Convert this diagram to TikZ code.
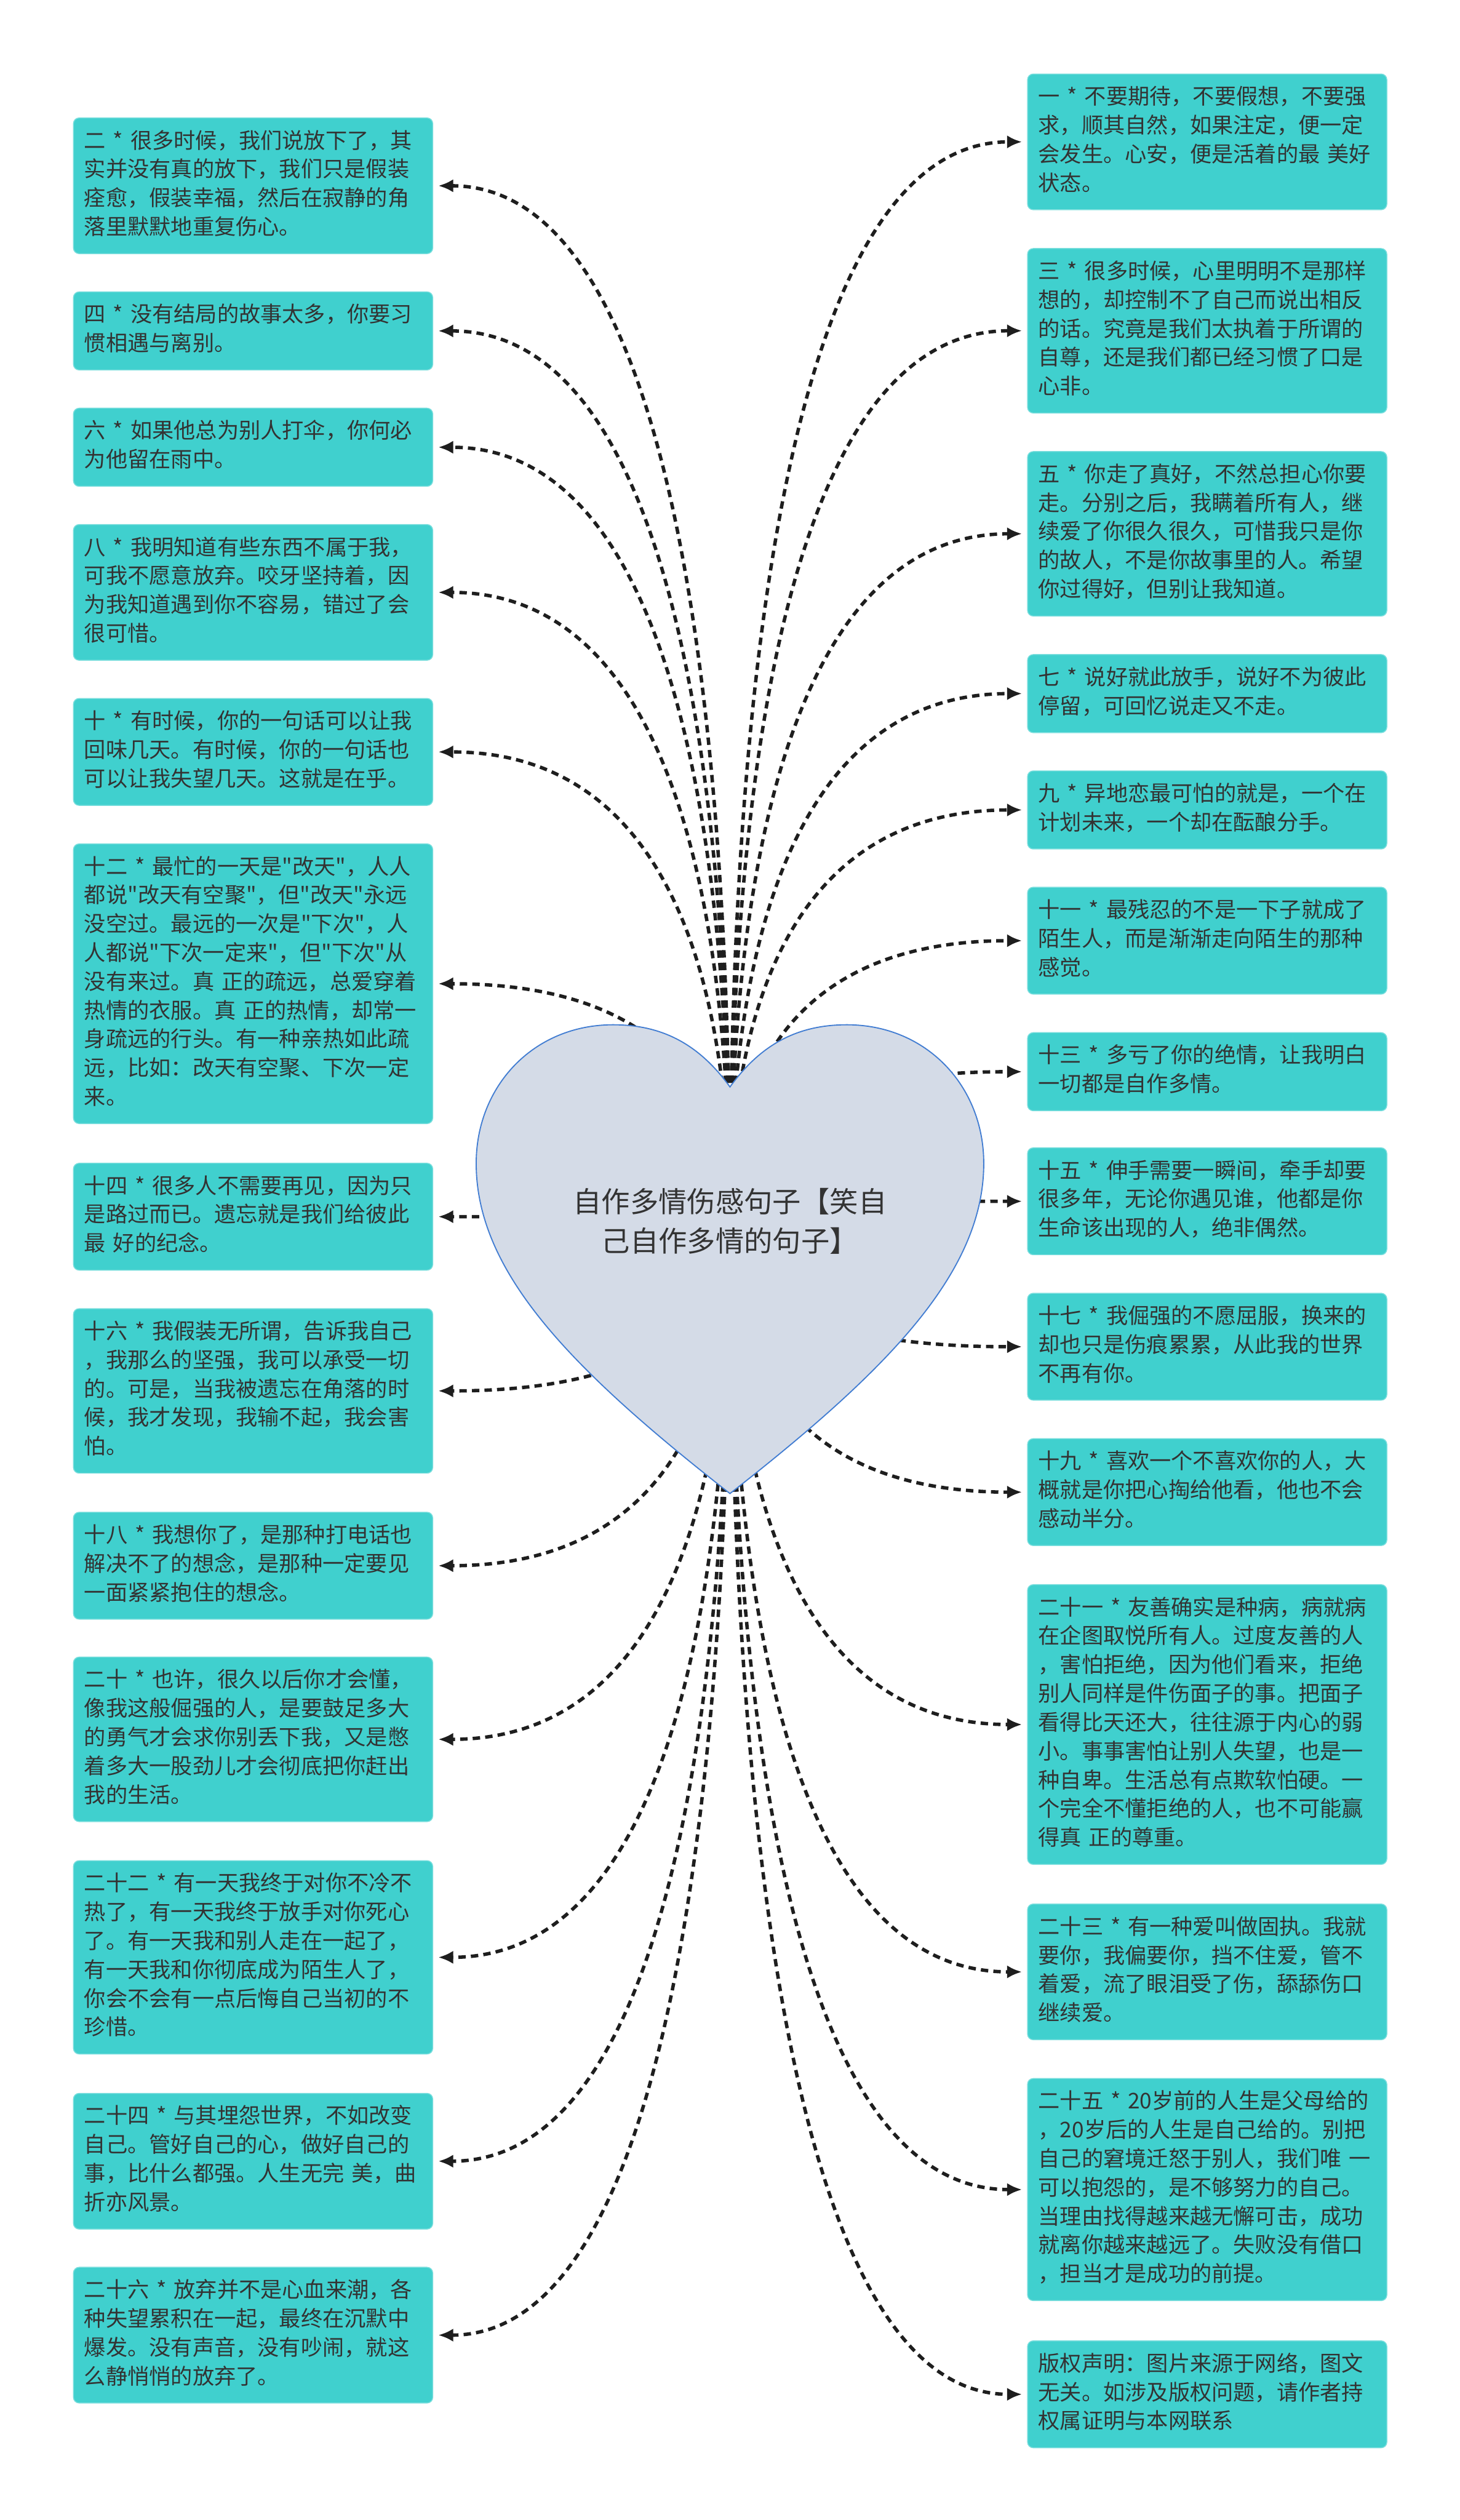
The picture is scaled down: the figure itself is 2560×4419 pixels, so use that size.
\documentclass[tikz,border=0pt]{standalone}
\usepackage{fontspec}
\setmainfont{Noto Sans CJK SC}[Ligatures=TeXOff]
\usepackage{xcolor}
\usetikzlibrary{arrows.meta, calc, backgrounds}
\definecolor{boxteal}{RGB}{64,208,206}
\definecolor{heartfill}{RGB}{212,219,231}
\definecolor{heartline}{RGB}{66,125,210}
\definecolor{inkgray}{RGB}{51,51,51}
\definecolor{linkgray}{RGB}{30,30,30}
\tikzset{
  quote/.style={rectangle, rounded corners=2.5pt, fill=boxteal, draw=boxteal!70!white,
    line width=0.4pt, text=inkgray, text width=148pt, align=left,
    inner xsep=4.75pt, inner ysep=4.5pt, anchor=north west,
    font=\fontsize{9.5pt}{12.625pt}\selectfont,
    execute at begin node={\noindent\strut}, execute at end node=\strut},
  link/.style={draw=linkgray, line width=1.5pt, dash pattern=on 3.25pt off 2.25pt,
    -{Latex[length=6.5pt,width=5.75pt]}, shorten >=2.25pt,
    to path={.. controls ($(\tikztostart)!0.5!(\tikztostart |- \tikztotarget)$)
      and ($(\tikztotarget)!0.8!(\tikztostart |- \tikztotarget)$) .. (\tikztotarget) \tikztonodes}}
}

\begin{document}
\begin{tikzpicture}[x=0.25pt, y=-0.25pt]
\useasboundingbox (0,0) rectangle (2560,4419);
\node[font=\fontsize{12.5pt}{17.25pt}\selectfont, align=center, text=inkgray] (heart) at (1280,2141) {自作多情伤感句子【笑自\\己自作多情的句子】};
% left column
\node[quote] (q2) at (128,206) {二 * 很多时候，我们说放下了，其\\实并没有真的放下，我们只是假装\\痊愈，假装幸福，然后在寂静的角\\落里默默地重复伤心。};
\node[quote] (q4) at (128,511) {四 * 没有结局的故事太多，你要习\\惯相遇与离别。};
\node[quote] (q6) at (128,715) {六 * 如果他总为别人打伞，你何必\\为他留在雨中。};
\node[quote] (q8) at (128,919) {八 * 我明知道有些东西不属于我，\\可我不愿意放弃。咬牙坚持着，因\\为我知道遇到你不容易，错过了会\\很可惜。};
\node[quote] (q10) at (128,1224) {十 * 有时候，你的一句话可以让我\\回味几天。有时候，你的一句话也\\可以让我失望几天。这就是在乎。};
\node[quote] (q12) at (128,1479) {十二 * 最忙的一天是"改天"，人人\\都说"改天有空聚"，但"改天"永远\\没空过。最远的一次是"下次"，人\\人都说"下次一定来"，但"下次"从\\没有来过。真 正的疏远，总爱穿着\\热情的衣服。真 正的热情，却常一\\身疏远的行头。有一种亲热如此疏\\远，比如：改天有空聚、下次一定\\来。};
\node[quote] (q14) at (128,2039) {十四 * 很多人不需要再见，因为只\\是路过而已。遗忘就是我们给彼此\\最 好的纪念。};
\node[quote] (q16) at (128,2294) {十六 * 我假装无所谓，告诉我自己\\，我那么的坚强，我可以承受一切\\的。可是，当我被遗忘在角落的时\\候，我才发现，我输不起，我会害\\怕。};
\node[quote] (q18) at (128,2651) {十八 * 我想你了，是那种打电话也\\解决不了的想念，是那种一定要见\\一面紧紧抱住的想念。};
\node[quote] (q20) at (128,2905) {二十 * 也许，很久以后你才会懂，\\像我这般倔强的人，是要鼓足多大\\的勇气才会求你别丢下我，又是憋\\着多大一股劲儿才会彻底把你赶出\\我的生活。};
\node[quote] (q22) at (128,3262) {二十二 * 有一天我终于对你不冷不\\热了，有一天我终于放手对你死心\\了。有一天我和别人走在一起了，\\有一天我和你彻底成为陌生人了，\\你会不会有一点后悔自己当初的不\\珍惜。};
\node[quote] (q24) at (128,3670) {二十四 * 与其埋怨世界，不如改变\\自己。管好自己的心，做好自己的\\事，比什么都强。人生无完 美，曲\\折亦风景。};
\node[quote] (q26) at (128,3975) {二十六 * 放弃并不是心血来潮，各\\种失望累积在一起，最终在沉默中\\爆发。没有声音，没有吵闹，就这\\么静悄悄的放弃了。};
% right column
\node[quote] (q1) at (1801,129) {一 * 不要期待，不要假想，不要强\\求，顺其自然，如果注定，便一定\\会发生。心安，便是活着的最 美好\\状态。};
\node[quote] (q3) at (1801,435) {三 * 很多时候，心里明明不是那样\\想的，却控制不了自己而说出相反\\的话。究竟是我们太执着于所谓的\\自尊，还是我们都已经习惯了口是\\心非。};
\node[quote] (q5) at (1801,791) {五 * 你走了真好，不然总担心你要\\走。分别之后，我瞒着所有人，继\\续爱了你很久很久，可惜我只是你\\的故人，不是你故事里的人。希望\\你过得好，但别让我知道。};
\node[quote] (q7) at (1801,1147) {七 * 说好就此放手，说好不为彼此\\停留，可回忆说走又不走。};
\node[quote] (q9) at (1801,1351) {九 * 异地恋最可怕的就是，一个在\\计划未来，一个却在酝酿分手。};
\node[quote] (q11) at (1801,1555) {十一 * 最残忍的不是一下子就成了\\陌生人，而是渐渐走向陌生的那种\\感觉。};
\node[quote] (q13) at (1801,1810) {十三 * 多亏了你的绝情，让我明白\\一切都是自作多情。};
\node[quote] (q15) at (1801,2012) {十五 * 伸手需要一瞬间，牵手却要\\很多年，无论你遇见谁，他都是你\\生命该出现的人，绝非偶然。};
\node[quote] (q17) at (1801,2267) {十七 * 我倔强的不愿屈服，换来的\\却也只是伤痕累累，从此我的世界\\不再有你。};
\node[quote] (q19) at (1801,2522) {十九 * 喜欢一个不喜欢你的人，大\\概就是你把心掏给他看，他也不会\\感动半分。};
\node[quote] (q21) at (1801,2778) {二十一 * 友善确实是种病，病就病\\在企图取悦所有人。过度友善的人\\，害怕拒绝，因为他们看来，拒绝\\别人同样是件伤面子的事。把面子\\看得比天还大，往往源于内心的弱\\小。事事害怕让别人失望，也是一\\种自卑。生活总有点欺软怕硬。一\\个完全不懂拒绝的人，也不可能赢\\得真 正的尊重。};
\node[quote] (q23) at (1801,3338) {二十三 * 有一种爱叫做固执。我就\\要你，我偏要你，挡不住爱，管不\\着爱，流了眼泪受了伤，舔舔伤口\\继续爱。};
\node[quote] (q25) at (1801,3644) {二十五 * 20岁前的人生是父母给的\\，20岁后的人生是自己给的。别把\\自己的窘境迁怒于别人，我们唯 一\\可以抱怨的，是不够努力的自己。\\当理由找得越来越无懈可击，成功\\就离你越来越远了。失败没有借口\\，担当才是成功的前提。};
\node[quote] (note) at (1801,4104) {版权声明：图片来源于网络，图文\\无关。如涉及版权问题，请作者持\\权属证明与本网联系};
\begin{pgfonlayer}{background}
\fill[white] (0,0) rectangle (2560,4419);
% connectors, under the heart
\draw[link] (heart.center) to (q2.east);
\draw[link] (heart.center) to (q4.east);
\draw[link] (heart.center) to (q6.east);
\draw[link] (heart.center) to (q8.east);
\draw[link] (heart.center) to (q10.east);
\draw[link] (heart.center) to (q12.east);
\draw[link] (heart.center) to (q14.east);
\draw[link] (heart.center) to (q16.east);
\draw[link] (heart.center) to (q18.east);
\draw[link] (heart.center) to (q20.east);
\draw[link] (heart.center) to (q22.east);
\draw[link] (heart.center) to (q24.east);
\draw[link] (heart.center) to (q26.east);
\draw[link] (heart.center) to (q1.west);
\draw[link] (heart.center) to (q3.west);
\draw[link] (heart.center) to (q5.west);
\draw[link] (heart.center) to (q7.west);
\draw[link] (heart.center) to (q9.west);
\draw[link] (heart.center) to (q11.west);
\draw[link] (heart.center) to (q13.west);
\draw[link] (heart.center) to (q15.west);
\draw[link] (heart.center) to (q17.west);
\draw[link] (heart.center) to (q19.west);
\draw[link] (heart.center) to (q21.west);
\draw[link] (heart.center) to (q23.west);
\draw[link] (heart.center) to (q25.west);
\draw[link] (heart.center) to (note.west);
% heart
\filldraw[fill=heartfill, draw=heartline, line width=0.5pt]
  (1280,1906) .. controls (1335,1830) and (1400,1797) .. (1485,1797)
  .. controls (1625,1797) and (1725,1905) .. (1725,2040)
  .. controls (1725,2230) and (1560,2400) .. (1280,2619)
  .. controls (1000,2400) and (835,2230) .. (835,2040)
  .. controls (835,1905) and (935,1797) .. (1075,1797)
  .. controls (1160,1797) and (1225,1830) .. (1280,1906) -- cycle;
\end{pgfonlayer}
\end{tikzpicture}
\end{document}
